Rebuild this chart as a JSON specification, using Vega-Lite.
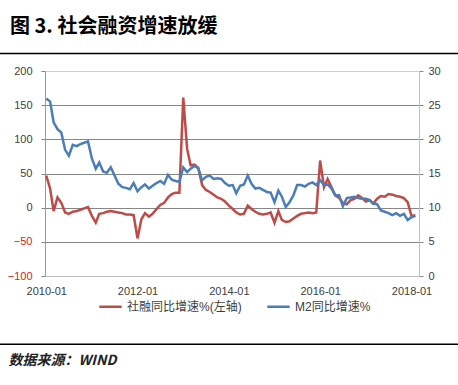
{
  "$schema": "https://vega.github.io/schema/vega-lite/v6.json",
  "width": 374,
  "height": 205,
  "autosize": {"type": "none"},
  "padding": {"left": 45, "top": 71, "right": 39, "bottom": 109},
  "background": "white",
  "config": {"view": {"stroke": null}, "font": "Liberation Sans, Noto Sans CJK SC"},
  "title": {"text": "图 3.  社会融资增速放缓", "anchor": "start", "frame": "group", "orient": "top", "offset": -4, "dx": -35, "font": "Noto Sans CJK SC", "fontSize": 20, "fontWeight": "bold", "color": "#000000", "baseline": "bottom"},
  "data": {"values": [
    {"d":"2010-01-01","sf":47,"m2":25.98},{"d":"2010-02-01","sf":28,"m2":25.52},{"d":"2010-03-01","sf":-5,"m2":22.5},{"d":"2010-04-01","sf":15,"m2":21.48},{"d":"2010-05-01","sf":7,"m2":21.0},{"d":"2010-06-01","sf":-7,"m2":18.46},{"d":"2010-07-01","sf":-9,"m2":17.6},{"d":"2010-08-01","sf":-6,"m2":19.2},{"d":"2010-09-01","sf":-5,"m2":19.0},{"d":"2010-10-01","sf":-3,"m2":19.3},{"d":"2010-11-01","sf":-1,"m2":19.5},{"d":"2010-12-01","sf":1,"m2":19.7},
    {"d":"2011-01-01","sf":-12,"m2":17.2},{"d":"2011-02-01","sf":-22,"m2":15.7},{"d":"2011-03-01","sf":-9,"m2":16.6},{"d":"2011-04-01","sf":-8,"m2":15.3},{"d":"2011-05-01","sf":-6,"m2":15.1},{"d":"2011-06-01","sf":-5,"m2":15.9},{"d":"2011-07-01","sf":-6,"m2":14.7},{"d":"2011-08-01","sf":-7,"m2":13.5},{"d":"2011-09-01","sf":-8,"m2":13.0},{"d":"2011-10-01","sf":-10,"m2":12.9},{"d":"2011-11-01","sf":-10,"m2":12.7},{"d":"2011-12-01","sf":-11,"m2":13.6},
    {"d":"2012-01-01","sf":-45,"m2":12.4},{"d":"2012-02-01","sf":-17,"m2":13.0},{"d":"2012-03-01","sf":-8,"m2":13.4},{"d":"2012-04-01","sf":-13,"m2":12.8},{"d":"2012-05-01","sf":-9,"m2":13.2},{"d":"2012-06-01","sf":-2,"m2":13.6},{"d":"2012-07-01","sf":4,"m2":13.9},{"d":"2012-08-01","sf":7,"m2":13.5},{"d":"2012-09-01","sf":15,"m2":14.8},{"d":"2012-10-01","sf":20,"m2":14.1},{"d":"2012-11-01","sf":22,"m2":13.9},{"d":"2012-12-01","sf":22,"m2":13.8},
    {"d":"2013-01-01","sf":161,"m2":15.9},{"d":"2013-02-01","sf":86,"m2":15.2},{"d":"2013-03-01","sf":62,"m2":15.7},{"d":"2013-04-01","sf":63,"m2":16.1},{"d":"2013-05-01","sf":58,"m2":15.8},{"d":"2013-06-01","sf":33,"m2":14.0},{"d":"2013-07-01","sf":26,"m2":14.5},{"d":"2013-08-01","sf":23,"m2":14.7},{"d":"2013-09-01","sf":19,"m2":14.2},{"d":"2013-10-01","sf":15,"m2":14.3},{"d":"2013-11-01","sf":13,"m2":14.2},{"d":"2013-12-01","sf":9,"m2":13.6},
    {"d":"2014-01-01","sf":3,"m2":13.2},{"d":"2014-02-01","sf":-2,"m2":13.3},{"d":"2014-03-01","sf":-7,"m2":12.1},{"d":"2014-04-01","sf":-10,"m2":13.2},{"d":"2014-05-01","sf":-9,"m2":13.4},{"d":"2014-06-01","sf":3,"m2":14.7},{"d":"2014-07-01","sf":-2,"m2":13.5},{"d":"2014-08-01","sf":-6,"m2":12.8},{"d":"2014-09-01","sf":-9,"m2":12.9},{"d":"2014-10-01","sf":-10,"m2":12.6},{"d":"2014-11-01","sf":-9,"m2":12.3},{"d":"2014-12-01","sf":-7,"m2":12.2},
    {"d":"2015-01-01","sf":-22,"m2":10.8},{"d":"2015-02-01","sf":-5,"m2":12.5},{"d":"2015-03-01","sf":-18,"m2":11.6},{"d":"2015-04-01","sf":-21,"m2":10.1},{"d":"2015-05-01","sf":-20,"m2":10.8},{"d":"2015-06-01","sf":-16,"m2":11.8},{"d":"2015-07-01","sf":-12,"m2":13.3},{"d":"2015-08-01","sf":-9,"m2":13.3},{"d":"2015-09-01","sf":-8,"m2":13.1},{"d":"2015-10-01","sf":-7,"m2":13.5},{"d":"2015-11-01","sf":-8,"m2":13.7},{"d":"2015-12-01","sf":-7,"m2":13.3},
    {"d":"2016-01-01","sf":69,"m2":14.0},{"d":"2016-02-01","sf":30,"m2":13.3},{"d":"2016-03-01","sf":42,"m2":13.4},{"d":"2016-04-01","sf":30,"m2":12.8},{"d":"2016-05-01","sf":18,"m2":11.8},{"d":"2016-06-01","sf":14,"m2":11.8},{"d":"2016-07-01","sf":7,"m2":10.2},{"d":"2016-08-01","sf":5,"m2":11.4},{"d":"2016-09-01","sf":11,"m2":11.5},{"d":"2016-10-01","sf":13,"m2":11.6},{"d":"2016-11-01","sf":18,"m2":11.4},{"d":"2016-12-01","sf":14,"m2":11.3},
    {"d":"2017-01-01","sf":9,"m2":11.3},{"d":"2017-02-01","sf":11,"m2":11.1},{"d":"2017-03-01","sf":6,"m2":10.6},{"d":"2017-04-01","sf":13,"m2":10.5},{"d":"2017-05-01","sf":17,"m2":9.6},{"d":"2017-06-01","sf":16,"m2":9.4},{"d":"2017-07-01","sf":20,"m2":9.2},{"d":"2017-08-01","sf":19,"m2":8.9},{"d":"2017-09-01","sf":17,"m2":9.2},{"d":"2017-10-01","sf":16,"m2":8.8},{"d":"2017-11-01","sf":14,"m2":9.1},{"d":"2017-12-01","sf":8,"m2":8.2},
    {"d":"2018-01-01","sf":-12,"m2":8.6},{"d":"2018-02-01","sf":-11,"m2":8.8}
  ]},
  "layer": [
    {
      "encoding": {
        "y": {
          "type": "quantitative",
          "scale": {"domain": [-100, 200], "nice": false, "zero": false},
          "axis": {
            "title": null, "values": [-100, -50, 0, 50, 100, 150, 200],
            "labelOverlap": false,
            "grid": true,
            "gridColor": {"condition": {"test": "datum.value == 200 || datum.value == -100", "value": "#d0d0d0"}, "value": "#868686"},
            "domainColor": "#9a9a9a", "tickColor": "#868686", "tickSize": 4, "labelPadding": 9,
            "labelFontSize": 11, "labelFont": "Liberation Sans",
            "labelColor": {"condition": {"test": "datum.value < 0", "value": "#e02020"}, "value": "#404040"}
          }
        }
      },
      "layer": [
        {
          "mark": {"type": "line", "strokeWidth": 2.5, "clip": false},
          "encoding": {
            "x": {
              "field": "d", "type": "temporal",
              "scale": {"type": "utc", "domain": [1261440000000, 1519948800000]},
              "axis": {
                "values": [1262304000000, 1325376000000, 1388534400000, 1451606400000, 1514764800000],
                "labelExpr": "utcFormat(datum.value, '%Y-%m')",
                "grid": false, "domainColor": "#bfbfbf", "tickSize": 0, "labelPadding": 9,
                "labelFontSize": 11, "labelColor": "#404040", "labelFont": "Liberation Sans",
                "title": "数据来源：WIND", "titleX": -37, "titleY": 88, "titleAlign": "left", "titleAnchor": "start",
                "titleBaseline": "alphabetic", "titleFont": "Noto Sans CJK SC", "titleFontSize": 14,
                "titleFontStyle": "italic", "titleFontWeight": "bold", "titleColor": "#222222"
              }
            },
            "y": {"field": "sf"},
            "color": {
              "datum": "社融同比增速%(左轴)",
              "scale": {"domain": ["社融同比增速%(左轴)", "M2同比增速%"], "range": ["#be4b48", "#4a7ebb"]},
              "legend": {
                "orient": "none", "legendX": 53, "legendY": 223, "direction": "horizontal", "title": null,
                "symbolType": "stroke", "symbolSize": 500, "symbolStrokeWidth": 2.5,
                "labelFontSize": 12, "labelColor": "#404040", "columnPadding": 20, "labelOffset": 4
              }
            }
          }
        },
        {
          "data": {"values": [{"edge": "top"}]},
          "mark": {"type": "rule", "clip": false, "stroke": "#000000", "strokeWidth": 1.5},
          "encoding": {
            "x": {"datum": 1227000000000, "type": "temporal"},
            "x2": {"datum": 1550000000000},
            "y": {"datum": 225.5}
          }
        },
        {
          "data": {"values": [{"edge": "bottom"}]},
          "mark": {"type": "rule", "clip": false, "stroke": "#000000", "strokeWidth": 1.5},
          "encoding": {
            "x": {"datum": 1227000000000, "type": "temporal"},
            "x2": {"datum": 1550000000000},
            "y": {"datum": -200}
          }
        }
      ]
    },
    {
      "mark": {"type": "line", "strokeWidth": 2.5, "clip": false},
      "encoding": {
        "x": {"field": "d", "type": "temporal"},
        "y": {
          "field": "m2", "type": "quantitative",
          "scale": {"domain": [0, 30], "nice": false},
          "axis": {
            "orient": "right", "title": null, "values": [0, 5, 10, 15, 20, 25, 30],
            "labelOverlap": false,
            "grid": false, "domainColor": "#bfbfbf", "tickColor": "#868686", "tickSize": 4, "labelPadding": 5,
            "labelFontSize": 11, "labelColor": "#404040", "labelFont": "Liberation Sans"
          }
        },
        "color": {"datum": "M2同比增速%"}
      }
    }
  ],
  "resolve": {"scale": {"y": "independent"}}
}
